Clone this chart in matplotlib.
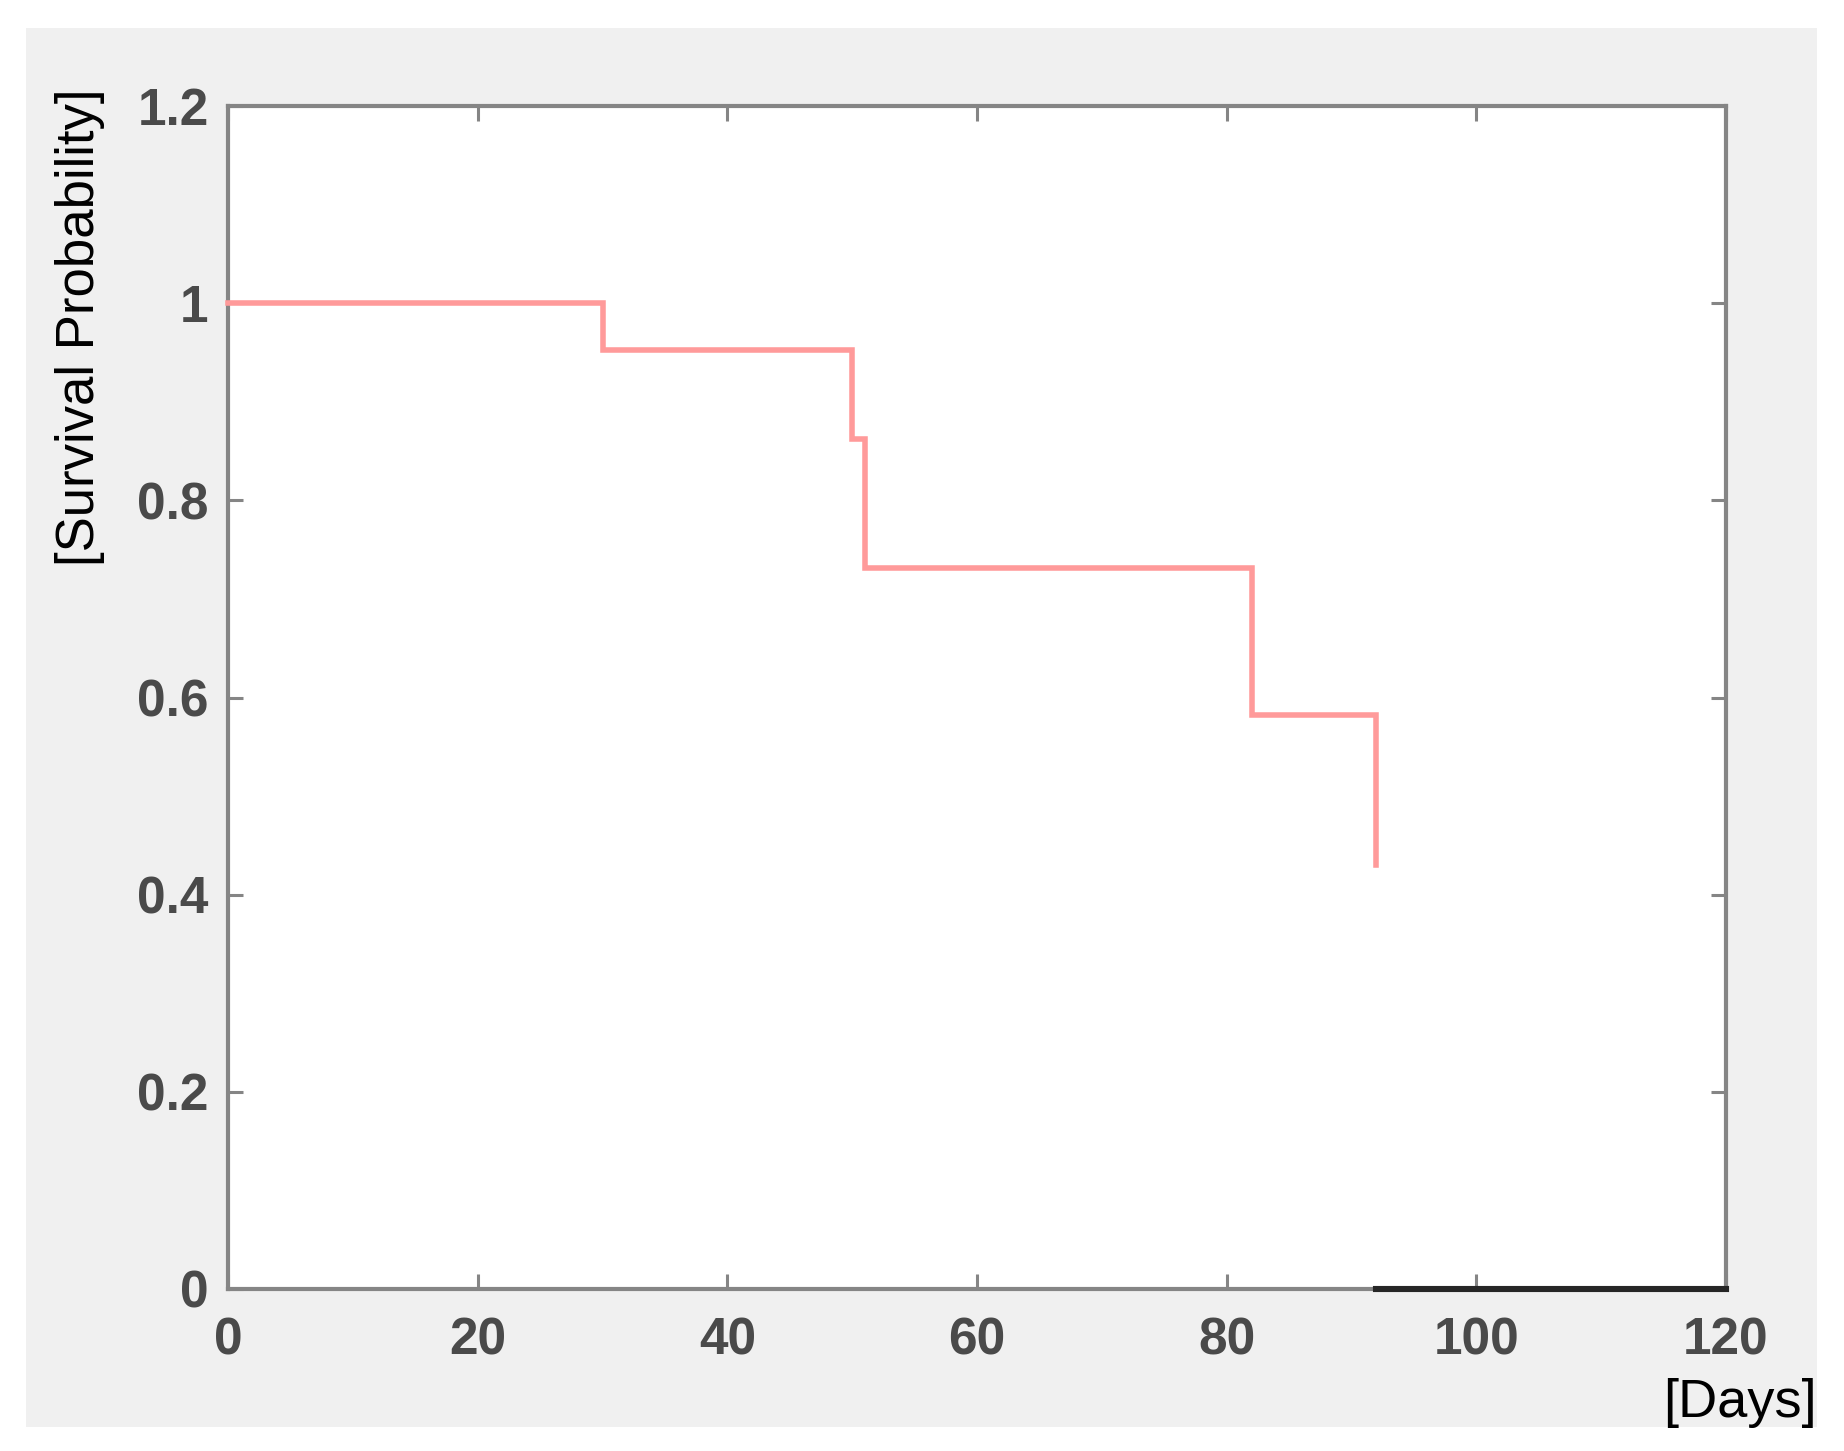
import matplotlib as mpl
import matplotlib.pyplot as plt
from matplotlib.patches import Rectangle

mpl.rcParams["font.family"] = ["Liberation Sans", "DejaVu Sans"]

# Kaplan-Meier style step curve
days = [0, 30, 50, 51, 82, 92]
survival = [1.0, 0.953, 0.862, 0.731, 0.582, 0.43]

# black segment along the x axis after the last event
tail_days = [92, 120]
tail_level = [0, 0]

x_ticks = [0, 20, 40, 60, 80, 100, 120]
y_ticks = [0, 0.2, 0.4, 0.6, 0.8, 1.0, 1.2]
y_tick_labels = ["0", "0.2", "0.4", "0.6", "0.8", "1", "1.2"]

W, H = 1844, 1451
fig = plt.figure(figsize=(W / 100, H / 100), dpi=100)
fig.patch.set_facecolor("white")

# grey MATLAB-like figure panel
fig.patches.append(Rectangle((26 / W, 1 - 1427 / H), (1817 - 26) / W, (1427 - 28) / H,
                             transform=fig.transFigure, facecolor="#f0f0f0",
                             edgecolor="none", zorder=-10))

ax = fig.add_axes([228 / W, 1 - 1289 / H, (1726 - 228) / W, (1289 - 106) / H])
ax.set_zorder(1)
ax.set_facecolor("white")

ax.plot(days, survival, drawstyle="steps-post", color="#ff9a9a", linewidth=4,
        solid_joinstyle="miter", clip_on=False, zorder=3)
ax.plot(tail_days, tail_level, color="#262626", linewidth=4.4, clip_on=False, zorder=4)

ax.set_xlim(0, 120)
ax.set_ylim(0, 1.2)
ax.set_xticks(x_ticks)
ax.set_yticks(y_ticks)
ax.set_yticklabels(y_tick_labels)

for s in ax.spines.values():
    s.set_color("#858585")
    s.set_linewidth(3)

ax.tick_params(axis="both", which="both", direction="in", length=11, width=2.2,
               color="#858585", labelsize=37, labelcolor="#4a4a4a",
               top=True, right=True)
ax.tick_params(axis="x", pad=20)
ax.tick_params(axis="y", pad=14)
for lab in ax.get_xticklabels() + ax.get_yticklabels():
    lab.set_fontweight("bold")

fig.text(80 / W, 1 - 88 / H, "[Survival Probability]", rotation=90, ha="center",
         va="top", fontsize=38, color="black")
fig.text(1817 / W, 1 - 1403 / H, "[Days]", ha="right", va="center",
         fontsize=39, color="black")

fig.savefig("out.png", dpi=100, facecolor=fig.get_facecolor())
